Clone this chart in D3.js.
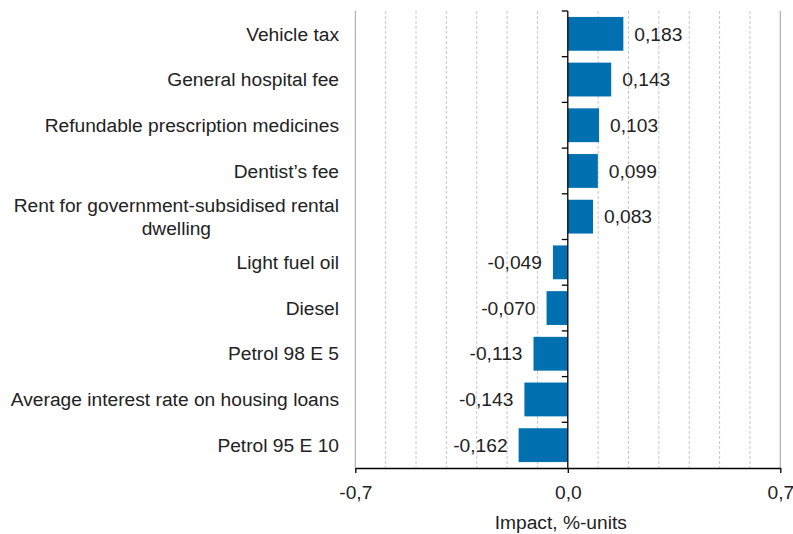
<!DOCTYPE html>
<html>
<head>
<meta charset="utf-8">
<script src="https://cdn.jsdelivr.net/npm/d3@7"></script>
<style>
  html, body { margin: 0; padding: 0; background: #fff; }
  svg { display: block; font-family: "Liberation Sans", Arial, sans-serif; }
</style>
</head>
<body>
<svg id="chart" width="793" height="534"></svg>
<script>
const categories = [
  "Vehicle tax",
  "General hospital fee",
  "Refundable prescription medicines",
  "Dentist’s fee",
  "Rent for government-subsidised rental\ndwelling",
  "Light fuel oil",
  "Diesel",
  "Petrol 98 E 5",
  "Average interest rate on housing loans",
  "Petrol 95 E 10"
];
const values = [0.183, 0.143, 0.103, 0.099, 0.083, -0.049, -0.070, -0.113, -0.143, -0.162];
const valueLabels = ["0,183", "0,143", "0,103", "0,099", "0,083", "-0,049", "-0,070", "-0,113", "-0,143", "-0,162"];
const xTicks = [-0.7, 0, 0.7];
const xTickLabels = ["-0,7", "0,0", "0,7"];
const gridValues = [-0.7, -0.6, -0.5, -0.4, -0.3, -0.2, -0.1, 0.1, 0.2, 0.3, 0.4, 0.5, 0.6, 0.7];
const xTitle = "Impact, %-units";

(function () {
const svg = d3.select("#chart");
const pLeft = 355.3, pRight = 780.3, pTop = 11, pBottom = 468;
const textColor = "#222";
const fontSize = 19.2;

const x = d3.scaleLinear().domain([-0.7, 0.7]).range([pLeft, pRight]);
const pad = 0.26;
const y = d3.scaleBand().domain(categories).range([pTop, pBottom]).paddingInner(pad).paddingOuter(pad / 2);

// gridlines
svg.append("g").selectAll("line").data(gridValues).join("line")
  .attr("x1", d => x(d)).attr("x2", d => x(d))
  .attr("y1", pTop).attr("y2", pBottom)
  .attr("stroke", d => Math.abs(d) === 0.7 ? "#a0a0a0" : "#c8c8c8")
  .attr("stroke-width", 1)
  .attr("stroke-dasharray", d => Math.abs(d) === 0.7 ? null : "3,2");

// bars
svg.append("g").selectAll("rect").data(values).join("rect")
  .attr("x", d => Math.min(x(0), x(d)))
  .attr("width", d => Math.abs(x(d) - x(0)))
  .attr("y", (d, i) => y(categories[i]))
  .attr("height", y.bandwidth())
  .attr("fill", "#0070b0");

// value labels
svg.append("g").selectAll("text").data(values).join("text")
  .attr("x", d => d >= 0 ? x(d) + 11 : x(d) - 11)
  .attr("y", (d, i) => y(categories[i]) + y.bandwidth() / 2)
  .attr("dy", "0.35em")
  .attr("text-anchor", d => d >= 0 ? "start" : "end")
  .attr("font-size", fontSize)
  .attr("fill", textColor)
  .text((d, i) => valueLabels[i]);

// y axis (zero line) with ticks at band boundaries
const step = y.step();
const boundaries = d3.range(categories.length).map(i => pTop + i * step);
const yAxisG = svg.append("g");
yAxisG.append("line")
  .attr("x1", x(0)).attr("x2", x(0)).attr("y1", pTop).attr("y2", pBottom)
  .attr("stroke", "#000").attr("stroke-width", 1.3);
yAxisG.selectAll("line.tick").data(boundaries).join("line").attr("class", "tick")
  .attr("x1", x(0) - 6).attr("x2", x(0))
  .attr("y1", d => d).attr("y2", d => d)
  .attr("stroke", "#000").attr("stroke-width", 1.3);

// category labels
const catG = svg.append("g");
categories.forEach((c, i) => {
  const lines = c.split("\n");
  const cy = y(c) + y.bandwidth() / 2;
  const lh = 23;
  const t = catG.append("text")
    .attr("font-size", fontSize)
    .attr("fill", textColor);
  if (lines.length === 1) {
    t.attr("x", 339).attr("y", cy).attr("dy", "0.35em").attr("text-anchor", "end").text(c);
  } else {
    t.attr("text-anchor", "middle");
    const tmp = catG.append("text").attr("font-size", fontSize).text(lines[0]);
    const w = tmp.node().getComputedTextLength();
    tmp.remove();
    const cx = 339 - w / 2;
    lines.forEach((ln, k) => {
      t.append("tspan").attr("x", cx)
        .attr("y", cy + (k - (lines.length - 1) / 2) * lh)
        .attr("dy", "0.35em").text(ln);
    });
  }
});

// x axis
const xAxis = d3.axisBottom(x).tickValues(xTicks).tickSize(5).tickSizeOuter(0)
  .tickFormat((d, i) => xTickLabels[i]);
const xg = svg.append("g").attr("transform", `translate(0,${pBottom})`).call(xAxis);
xg.select(".domain").attr("stroke", "#000").attr("stroke-width", 1.3);
xg.selectAll(".tick line").attr("stroke", "#000").attr("stroke-width", 1.3);
xg.selectAll(".tick text").attr("font-size", fontSize).attr("fill", textColor)
  .attr("font-family", "Liberation Sans, Arial, sans-serif").attr("y", 17);

svg.append("text")
  .attr("x", (pLeft + pRight) / 2 - 7).attr("y", 522).attr("dy", "0.35em")
  .attr("text-anchor", "middle").attr("font-size", fontSize).attr("fill", textColor)
  .text(xTitle);
})();
</script>
</body>
</html>
